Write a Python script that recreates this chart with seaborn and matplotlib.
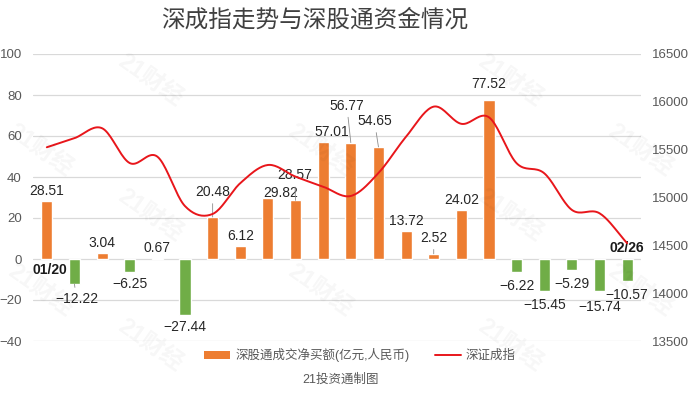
import numpy as np
import pandas as pd
import matplotlib
matplotlib.use('Agg')
import matplotlib.pyplot as plt
import seaborn as sns
from matplotlib.patches import Patch
from matplotlib.lines import Line2D

# data
flow = [28.51, -12.22, 3.04, -6.25, 0.67, -27.44, 20.48, 6.12, 29.82, 28.57, 57.01,
        56.77, 54.65, 13.72, 2.52, 24.02, 77.52, -6.22, -15.45, -5.29, -15.74, -10.57]
index_close = [15525, 15620, 15724, 15360, 15427, 14910, 14828, 15150, 15340, 15218, 15113,
               15016, 15256, 15636, 15950, 15770, 15838, 15358, 15253, 14870, 14835, 14522]
first_date = '01/20'
last_date = '02/26'
title = '深成指走势与深股通资金情况'
bar_name = '深股通成交净买额(亿元,人民币)'
line_name = '深证成指'
source = '21投资通制图'

ORANGE = '#ED7D31'
GREEN = '#70AD47'
RED = '#E8161B'
GRAY = '#595959'


def catmull_rom(y, steps=20):
    """Smooth curve through the points (like Excel's smoothed line)"""
    y = np.asarray(y, dtype=float)
    p = np.concatenate([[2 * y[0] - y[1]], y, [2 * y[-1] - y[-2]]])
    xs, ys = [], []
    t = np.linspace(0, 1, steps, endpoint=False)
    for i in range(len(y) - 1):
        p0, p1, p2, p3 = p[i], p[i + 1], p[i + 2], p[i + 3]
        seg = 0.5 * ((2 * p1) + (-p0 + p2) * t + (2 * p0 - 5 * p1 + 4 * p2 - p3) * t ** 2
                     + (-p0 + 3 * p1 - 3 * p2 + p3) * t ** 3)
        xs.extend(i + t)
        ys.extend(seg)
    xs.append(len(y) - 1)
    ys.append(y[-1])
    return np.array(xs), np.array(ys)


sns.set_style('white')
plt.rcParams['font.family'] = ['Liberation Sans', 'Noto Sans CJK SC', 'DejaVu Sans']

df = pd.DataFrame({'day': np.arange(len(flow)), 'flow': flow})
df['sign'] = np.where(df['flow'] >= 0, 'pos', 'neg')

fig = plt.figure(figsize=(6.93, 3.93), dpi=100)
ax = fig.add_axes([33 / 693, 1 - 341 / 393, 608 / 693, 287 / 393])

sns.barplot(data=df, x='day', y='flow', hue='sign', palette={'pos': ORANGE, 'neg': GREEN},
            width=0.4, dodge=False, legend=False, saturation=1, ax=ax, zorder=2)
ax.set_xlim(-0.5, len(flow) - 0.5)
ax.set_ylim(-40, 100)
ax.set_yticks(np.arange(-40, 101, 20))
ax.set_xticks([])
ax.set_xlabel('')
ax.set_ylabel('')
ax.grid(axis='y', color='#D9D9D9', lw=0.9, zorder=0)
ax.set_axisbelow(True)
for s in ax.spines.values():
    s.set_visible(False)
ax.tick_params(axis='y', colors=GRAY, labelsize=9.5, length=0, pad=8)

# data labels: (dx, dy) offsets in pixels for the ones that were moved, True = leader line
special = {1: (2, -15, True), 6: (0, 25, True), 8: (13, 5, False), 9: (-1, 25, True),
           10: (9, 10, False), 11: (-4, 37, True), 12: (-4, 26, True), 14: (0, 16, True),
           16: (0, 16, False), 17: (0, -14, False), 18: (0, -14, False), 19: (0, -14, False),
           20: (0, -16, False), 21: (0, -14, False)}
for i, v in enumerate(flow):
    dx, dy, lead = special.get(i, (0, 10 if v >= 0 else -12, False))
    txt = f'{v:.2f}'.replace('-', '\u2212')
    props = dict(arrowstyle='-', color='#8C8C8C', lw=0.6, shrinkA=1, shrinkB=0) if lead else None
    ax.annotate(txt, xy=(i, v), xytext=(dx, dy), textcoords='offset pixels',
                ha='center', va='center', fontsize=10, color='#262626',
                arrowprops=props, zorder=5)

ax2 = ax.twinx()
lx, ly = catmull_rom(index_close)
sns.lineplot(x=lx, y=ly, color=RED, lw=1.4, ax=ax2, sort=False)
ax2.set_ylim(13500, 16500)
ax2.set_yticks(np.arange(13500, 16501, 500))
ax2.set_xlim(-0.5, len(flow) - 0.5)
for s in ax2.spines.values():
    s.set_visible(False)
ax2.tick_params(axis='y', colors=GRAY, labelsize=9.5, length=0, pad=8)

# first / last date labels
ax.text(0.1, -5.5, first_date, ha='center', va='center', fontsize=10, fontweight='bold', color='#1a1a1a')
ax.text(len(flow) - 1, 5.5, last_date, ha='center', va='center', fontsize=10, fontweight='bold', color='#1a1a1a')

fig.text(315 / 693, 1 - 20 / 393, title, ha='center', va='center', fontsize=17, color='#404040')

handles = [Patch(facecolor=ORANGE, edgecolor='none'), Line2D([0], [0], color=RED, lw=1.4)]
fig.legend(handles, [bar_name, line_name], loc='center', bbox_to_anchor=(360 / 693, 1 - 355 / 393),
           ncol=2, frameon=False, fontsize=9, labelcolor=GRAY, handlelength=2.1, handleheight=0.6,
           columnspacing=2.0, handletextpad=0.4)
fig.text(341 / 693, 1 - 380 / 393, source, ha='center', va='center', fontsize=9, color=GRAY)

# faint watermarks
for wx, wy in [(150, 80), (150, 215), (150, 345), (320, 150), (320, 290), (510, 80),
               (510, 215), (510, 345), (40, 150), (40, 290), (640, 150), (640, 290)]:
    fig.text(wx / 693, 1 - wy / 393, '21财经', rotation=-35, ha='center', va='center',
             fontsize=17, fontweight='bold', color='#000000', alpha=0.035)

fig.savefig('out.png', dpi=100)
